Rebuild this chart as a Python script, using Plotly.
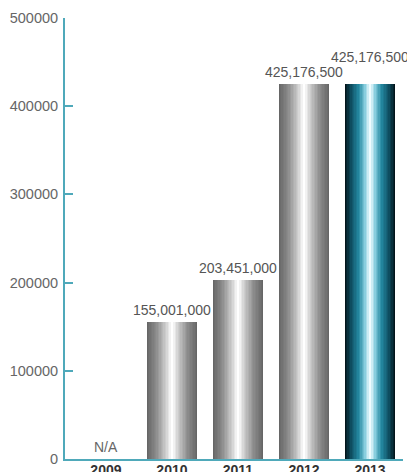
import plotly.graph_objects as go

# Data
years = ["2009", "2010", "2011", "2012", "2013"]
amounts = [None, 155001000, 203451000, 425176500, 425176500]  # N/A for 2009
axis_scale = 1000  # axis is drawn in thousands
highlight_year = "2013"

axis_color = "#4fa9ba"
font_family = "Liberation Sans, Arial, sans-serif"


def lerp(c1, c2, t):
    a = [int(c1[i:i + 2], 16) for i in (1, 3, 5)]
    b = [int(c2[i:i + 2], 16) for i in (1, 3, 5)]
    return "#%02x%02x%02x" % tuple(round(a[j] + (b[j] - a[j]) * t) for j in range(3))


def ramp(stops, t):
    for (t0, c0), (t1, c1) in zip(stops, stops[1:]):
        if t <= t1:
            return lerp(c0, c1, (t - t0) / (t1 - t0) if t1 > t0 else 0)
    return stops[-1][1]


gray_stops = [(0.0, "#666666"), (0.4, "#8f8f8f"), (0.8, "#d2d2d2"), (1.0, "#ffffff")]
teal_stops = [(0.0, "#03151b"), (0.25, "#0f5063"), (0.55, "#2388a0"), (0.82, "#86cddd"), (1.0, "#eefcff")]

ys = [None if v is None else v / axis_scale for v in amounts]

fig = go.Figure()

# Horizontal gradient built from stacked, progressively narrower bars
bar_width = 0.77
layers = 18
for k in range(layers):
    t = k / (layers - 1)
    colors = [ramp(teal_stops if yr == highlight_year else gray_stops, t) for yr in years]
    fig.add_trace(go.Bar(
        x=years, y=ys,
        width=bar_width * (1 - k / layers),
        marker=dict(color=colors, line=dict(width=0)),
        hoverinfo="skip", showlegend=False,
    ))

# Value labels above bars (category positions given by index)
for i, (yr, v, y) in enumerate(zip(years, amounts, ys)):
    if v is None:
        fig.add_annotation(x=i, y=0, text="N/A", showarrow=False,
                           yanchor="bottom", yshift=2,
                           font=dict(size=14, color="#666666", family=font_family))
    else:
        fig.add_annotation(x=i, y=y, text=f"{v:,}", showarrow=False,
                           yanchor="bottom", yshift=17 if yr == highlight_year else 2,
                           font=dict(size=14, color="#555555", family=font_family))

fig.update_layout(
    width=407, height=472,
    margin=dict(l=65, r=4, t=18, b=13),
    barmode="overlay", bargap=0,
    plot_bgcolor="white", paper_bgcolor="white",
    font=dict(family=font_family),
)
fig.update_xaxes(
    type="category", range=[-0.62, 4.5], automargin=False,
    showline=True, linecolor=axis_color, linewidth=2,
    showgrid=False, ticks="", zeroline=False,
    tickfont=dict(size=14, color="#333333", family=font_family, weight="bold"),
    ticklabelstandoff=-3,
)
fig.update_yaxes(
    range=[0, 500000], dtick=100000, tickformat="d", automargin=False,
    showline=True, linecolor=axis_color, linewidth=2,
    ticks="inside", ticklen=8, tickcolor=axis_color, tickwidth=2,
    showgrid=False, zeroline=False,
    tickfont=dict(size=14.5, color="#666666"),
    ticklabelstandoff=2,
)

fig.write_html("out.html")
